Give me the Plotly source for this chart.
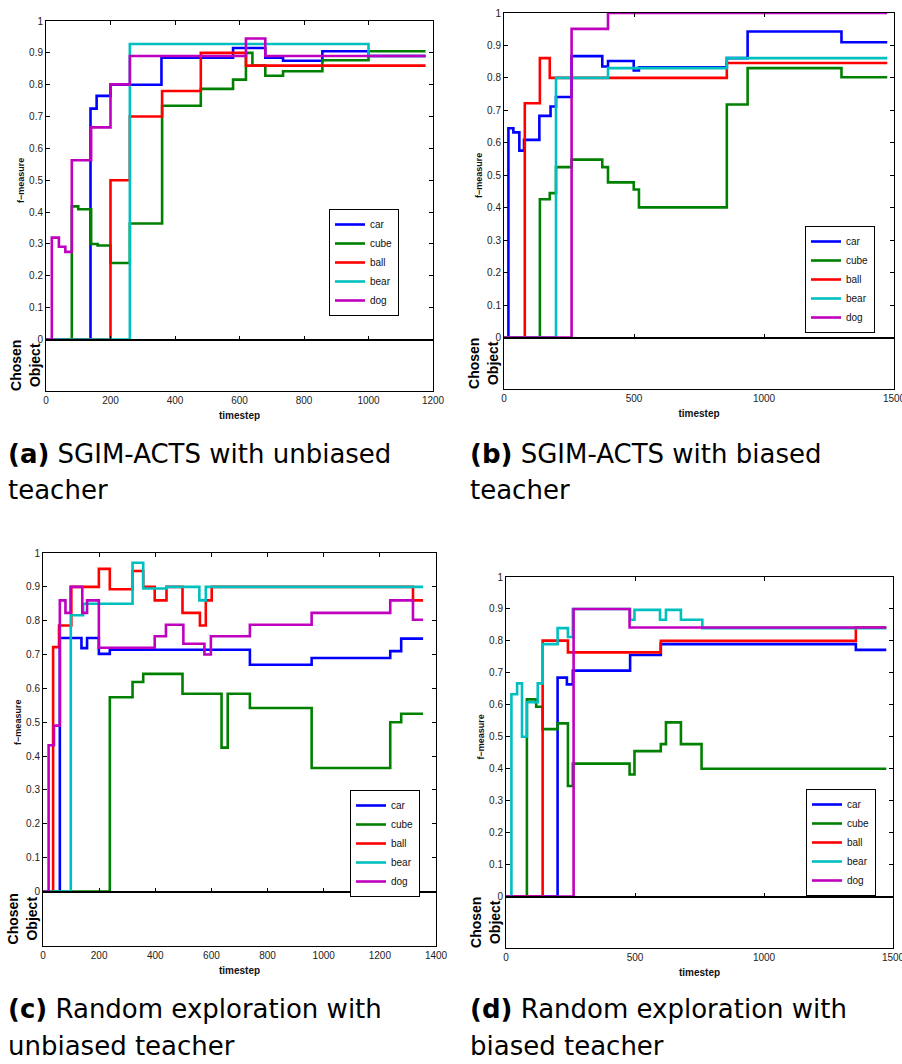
import plotly.graph_objects as go

W, H = 902, 1064

series_names = ["car", "cube", "ball", "bear", "dog"]
series_colors = ["#0000FF", "#008000", "#FF0000", "#00BFBF", "#BF00BF"]

# ---- Panel (a): SGIM-ACTS with unbiased teacher ----
a_car_x = [0, 138, 157, 200, 358, 580, 680, 735, 857, 1000, 1177]
a_car_y = [0, 0.725, 0.765, 0.80, 0.885, 0.915, 0.885, 0.875, 0.905, 0.89, 0.89]
a_cube_x = [0, 80, 100, 140, 160, 200, 260, 360, 480, 580, 620, 640, 680, 735, 857, 1000, 1177]
a_cube_y = [0, 0.418, 0.409, 0.30, 0.295, 0.24, 0.364, 0.734, 0.787, 0.816, 0.90, 0.86, 0.828, 0.842, 0.877, 0.905, 0.905]
a_ball_x = [0, 200, 260, 360, 480, 620, 1177]
a_ball_y = [0, 0.50, 0.70, 0.78, 0.90, 0.86, 0.86]
a_bear_x = [0, 260, 1000, 1177]
a_bear_y = [0, 0.928, 0.89, 0.89]
a_dog_x = [0, 18, 40, 60, 80, 140, 200, 260, 620, 680, 1177]
a_dog_y = [0, 0.32, 0.291, 0.275, 0.563, 0.666, 0.801, 0.89, 0.945, 0.89, 0.89]

# ---- Panel (b): SGIM-ACTS with biased teacher ----
b_car_x = [0, 17, 36, 59, 77, 136, 179, 200, 260, 378, 400, 499, 519, 857, 937, 1298, 1474]
b_car_y = [0, 0.645, 0.632, 0.576, 0.609, 0.683, 0.712, 0.741, 0.867, 0.835, 0.852, 0.823, 0.833, 0.861, 0.943, 0.91, 0.91]
b_cube_x = [0, 138, 176, 200, 260, 378, 400, 499, 519, 857, 937, 1298, 1474]
b_cube_y = [0, 0.426, 0.445, 0.525, 0.548, 0.525, 0.478, 0.456, 0.401, 0.718, 0.83, 0.802, 0.802]
b_ball_x = [0, 80, 138, 176, 857, 1474]
b_ball_y = [0, 0.722, 0.861, 0.80, 0.846, 0.846]
b_bear_x = [0, 200, 400, 857, 1474]
b_bear_y = [0, 0.80, 0.83, 0.861, 0.861]
b_dog_x = [0, 260, 400, 1474]
b_dog_y = [0, 0.951, 1.0, 1.0]

# ---- Panel (c): Random exploration with unbiased teacher ----
c_car_x = [0, 60, 137, 157, 199, 238, 737, 957, 1237, 1276, 1354]
c_car_y = [0, 0.749, 0.719, 0.749, 0.702, 0.714, 0.67, 0.69, 0.71, 0.747, 0.747]
c_cube_x = [0, 238, 319, 357, 497, 636, 658, 737, 957, 1237, 1276, 1354]
c_cube_y = [0, 0.574, 0.619, 0.643, 0.584, 0.425, 0.584, 0.542, 0.365, 0.50, 0.525, 0.525]
c_ball_x = [0, 36, 57, 101, 199, 238, 319, 357, 398, 440, 497, 559, 580, 601, 1318, 1354]
c_ball_y = [0, 0.722, 0.786, 0.90, 0.953, 0.893, 0.947, 0.90, 0.86, 0.90, 0.823, 0.786, 0.86, 0.90, 0.86, 0.86]
c_bear_x = [0, 99, 143, 319, 357, 440, 557, 580, 1354]
c_bear_y = [0, 0.816, 0.85, 0.971, 0.895, 0.90, 0.86, 0.90, 0.90]
c_dog_x = [0, 20, 39, 60, 80, 98, 140, 157, 199, 398, 438, 500, 575, 598, 737, 957, 1237, 1318, 1354]
c_dog_y = [0, 0.432, 0.49, 0.86, 0.823, 0.90, 0.823, 0.86, 0.72, 0.754, 0.788, 0.732, 0.70, 0.754, 0.788, 0.823, 0.86, 0.803, 0.803]

# ---- Panel (d): Random exploration with biased teacher ----
d_car_x = [0, 200, 236, 259, 481, 600, 1356, 1474]
d_car_y = [0, 0.685, 0.664, 0.707, 0.756, 0.79, 0.772, 0.772]
d_cube_x = [0, 81, 117, 142, 200, 240, 259, 479, 498, 600, 620, 678, 758, 1474]
d_cube_y = [0, 0.617, 0.594, 0.524, 0.542, 0.346, 0.416, 0.382, 0.455, 0.477, 0.545, 0.477, 0.40, 0.40]
d_ball_x = [0, 142, 240, 600, 1356, 1474]
d_ball_y = [0, 0.801, 0.764, 0.80, 0.842, 0.842]
d_bear_x = [0, 21, 43, 62, 81, 123, 142, 200, 240, 259, 481, 498, 597, 620, 678, 761, 1474]
d_bear_y = [0, 0.633, 0.667, 0.50, 0.608, 0.667, 0.79, 0.84, 0.812, 0.90, 0.866, 0.897, 0.866, 0.897, 0.866, 0.84, 0.84]
d_dog_x = [0, 262, 479, 1474]
d_dog_y = [0, 0.90, 0.842, 0.842]

y_ticks = [0, 0.1, 0.2, 0.3, 0.4, 0.5, 0.6, 0.7, 0.8, 0.9, 1]
y_tick_labels = ["0", "0.1", "0.2", "0.3", "0.4", "0.5", "0.6", "0.7", "0.8", "0.9", "1"]
x_ticks_a = [0, 200, 400, 600, 800, 1000, 1200]
x_ticks_b = [0, 500, 1000, 1500]
x_ticks_c = [0, 200, 400, 600, 800, 1000, 1200, 1400]
x_ticks_d = [0, 500, 1000, 1500]

captions = [
    ("(a)", "SGIM-ACTS with unbiased", "teacher"),
    ("(b)", "SGIM-ACTS with biased", "teacher"),
    ("(c)", "Random exploration with", "unbiased teacher"),
    ("(d)", "Random exploration with", "biased teacher"),
]

panels = [
    dict(data=[(a_car_x, a_car_y), (a_cube_x, a_cube_y), (a_ball_x, a_ball_y), (a_bear_x, a_bear_y), (a_dog_x, a_dog_y)],
         xmax=1200, xticks=x_ticks_a,
         main=(46, 433, 21, 339.5), strip=(339.5, 391),
         legend=(329, 209), cap=(6, 454, 490)),
    dict(data=[(b_car_x, b_car_y), (b_cube_x, b_cube_y), (b_ball_x, b_ball_y), (b_bear_x, b_bear_y), (b_dog_x, b_dog_y)],
         xmax=1500, xticks=x_ticks_b,
         main=(504, 894, 13, 337.5), strip=(337.5, 389),
         legend=(805, 226), cap=(468, 454, 490)),
    dict(data=[(c_car_x, c_car_y), (c_cube_x, c_cube_y), (c_ball_x, c_ball_y), (c_bear_x, c_bear_y), (c_dog_x, c_dog_y)],
         xmax=1400, xticks=x_ticks_c,
         main=(43, 436, 553, 891.5), strip=(891.5, 946),
         legend=(350, 790), cap=(6, 1009, 1046)),
    dict(data=[(d_car_x, d_car_y), (d_cube_x, d_cube_y), (d_ball_x, d_ball_y), (d_bear_x, d_bear_y), (d_dog_x, d_dog_y)],
         xmax=1500, xticks=x_ticks_d,
         main=(506, 893, 577, 896.5), strip=(896.5, 948),
         legend=(806, 789), cap=(468, 1009, 1046)),
]

TICKFONT = dict(family="Liberation Sans, Arial", size=10, color="#222222")
LBLFONT = dict(family="Liberation Sans, Arial", size=10, color="#111111")
CAPFONT = dict(family="DejaVu Sans", size=26, color="black")

fig = go.Figure()
layout = dict(template="none", width=W, height=H, margin=dict(l=0, r=0, t=0, b=0, autoexpand=False),
              paper_bgcolor="white", plot_bgcolor="white", showlegend=True)
annotations = []

def px_x(v):
    return v / W

def px_y(v):
    return 1 - v / H

for i, p in enumerate(panels):
    mi = 2 * i + 1
    si = 2 * i + 2
    mx = "x" if mi == 1 else f"x{mi}"
    my = "y" if mi == 1 else f"y{mi}"
    sx, sy = f"x{si}", f"y{si}"
    leg = "legend" if i == 0 else f"legend{i + 1}"
    x0, x1, y0, y1 = p["main"]
    s0, s1 = p["strip"]
    for (xs, ys), name, col in zip(p["data"], series_names, series_colors):
        fig.add_trace(go.Scatter(x=xs, y=ys, mode="lines", name=name,
                                 line=dict(color=col, width=2.6, shape="hv"),
                                 xaxis=mx, yaxis=my, legend=leg, hoverinfo="skip"))
    # invisible trace so the strip axes exist
    fig.add_trace(go.Scatter(x=[0], y=[0], mode="markers", marker=dict(opacity=0),
                             showlegend=False, xaxis=sx, yaxis=sy, hoverinfo="skip"))

    mxk = "xaxis" if mi == 1 else f"xaxis{mi}"
    myk = "yaxis" if mi == 1 else f"yaxis{mi}"
    layout[mxk] = dict(domain=[px_x(x0), px_x(x1)], range=[0, p["xmax"]], anchor=my,
                       tickvals=p["xticks"], showticklabels=False, ticks="inside",
                       ticklen=4, tickcolor="black", showline=True, linecolor="black",
                       linewidth=1, mirror="ticks", showgrid=False, zeroline=False,
                       automargin=False)
    layout[myk] = dict(domain=[px_y(y1), px_y(y0)], range=[0, 1], anchor=mx,
                       tickvals=y_ticks, ticktext=y_tick_labels, tickfont=TICKFONT,
                       ticks="inside", ticklen=4, tickcolor="black", showline=True,
                       linecolor="black", linewidth=1, mirror="ticks", showgrid=False,
                       zeroline=False, automargin=False,
                       title=dict(text="<b>f\u2212measure</b>", font=dict(family="Liberation Sans, Arial", size=9, color="#111"), standoff=2))
    layout[f"xaxis{si}"] = dict(domain=[px_x(x0), px_x(x1)], range=[0, p["xmax"]], anchor=sy,
                                tickvals=p["xticks"], tickfont=TICKFONT, ticks="",
                                ticklabeloverflow="allow",
                                showline=True, linecolor="black", linewidth=1, mirror=True,
                                showgrid=False, zeroline=False, automargin=False,
                                title=dict(text="<b>timestep</b>", font=LBLFONT, standoff=6))
    layout[f"yaxis{si}"] = dict(domain=[px_y(s1), px_y(s0)], range=[0, 1], anchor=sx,
                                showticklabels=False, ticks="", showline=True,
                                linecolor="black", linewidth=1, mirror=True,
                                showgrid=False, zeroline=False, automargin=False,
                                title=dict(text="<b>Chosen<br>Object</b>", font=dict(family="Liberation Sans, Arial", size=14, color="black"), standoff=1))
    lx, ly = p["legend"]
    layout[leg] = dict(x=px_x(lx), y=px_y(ly), xanchor="left", yanchor="top",
                       xref="paper", yref="paper",
                       bgcolor="white", bordercolor="black", borderwidth=1,
                       font=dict(family="Liberation Sans, Arial", size=10, color="#111"),
                       itemwidth=30, tracegroupgap=0)
    cx, cy1, cy2 = p["cap"]
    lab, line1, line2 = captions[i]
    annotations.append(dict(text=f"<b>{lab}</b> {line1}", x=px_x(cx), y=px_y(cy1),
                            xref="paper", yref="paper", xanchor="left", yanchor="middle",
                            showarrow=False, font=CAPFONT))
    annotations.append(dict(text=line2, x=px_x(cx), y=px_y(cy2),
                            xref="paper", yref="paper", xanchor="left", yanchor="middle",
                            showarrow=False, font=CAPFONT))

layout["annotations"] = annotations
fig.update_layout(**layout)
fig.write_html("out.html", config={"displayModeBar": False},
               post_script="document.body.style.margin='0px';document.body.style.overflow='hidden';")
